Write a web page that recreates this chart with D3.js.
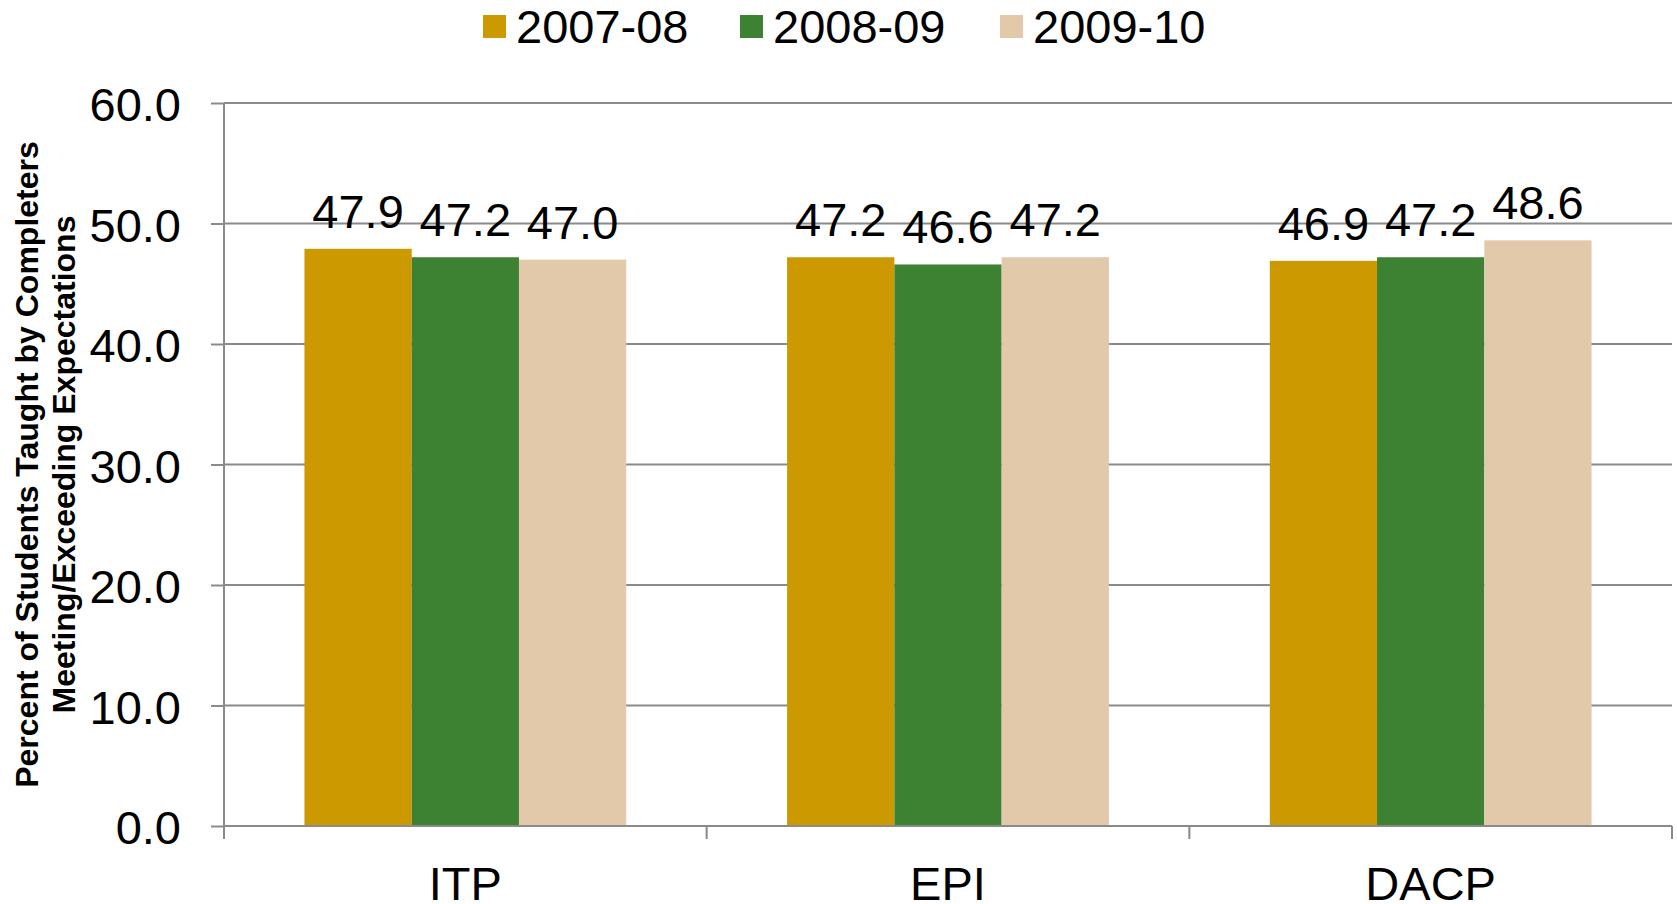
<!DOCTYPE html>
<html>
<head>
<meta charset="utf-8">
<script src="https://cdn.jsdelivr.net/npm/d3@7"></script>
<style>
  html, body { margin: 0; padding: 0; background: #fff; }
  text { font-family: "Liberation Sans", Arial, sans-serif; fill: #000; }
</style>
</head>
<body>
<div id="chart"></div>
<script>
const width = 1677;
const height = 904;
const margin = {top: 103, right: 5, bottom: 78, left: 224};
const fontSize = "47px";

const categories = ["ITP", "EPI", "DACP"];
const seriesNames = ["2007-08", "2008-09", "2009-10"];
const values0708 = [47.9, 47.2, 46.9];
const values0809 = [47.2, 46.6, 47.2];
const values0910 = [47.0, 47.2, 48.6];
const yTicks = [0, 10, 20, 30, 40, 50, 60];
const colors = ["#cc9900", "#3d8232", "#e2c9aa"];

const seriesValues = [values0708, values0809, values0910];
const rows = categories.map((c, i) => ({
    category: c,
    values: seriesNames.map((s, j) => ({ series: s, value: seriesValues[j][i] }))
}));

const svg = d3.select("#chart")
    .append("svg")
        .attr("width", width)
        .attr("height", height)
        .attr("viewBox", [0, 0, width, height]);

const x0 = d3.scaleBand()
    .domain(categories)
    .range([margin.left, width - margin.right])
    .padding(0);

// excel-style gap width of 150%
const x1 = d3.scaleBand()
    .domain(seriesNames)
    .range([0, x0.bandwidth()])
    .paddingInner(0)
    .paddingOuter(0.75);

const y = d3.scaleLinear()
    .domain([0, 60])
    .range([height - margin.bottom, margin.top]);

const color = d3.scaleOrdinal().domain(seriesNames).range(colors);

// gridlines
svg.append("g")
    .selectAll("line")
    .data(yTicks)
    .enter().append("line")
        .attr("x1", margin.left)
        .attr("x2", width - margin.right)
        .attr("y1", d => y(d))
        .attr("y2", d => y(d))
        .attr("stroke", "#8a8a8a")
        .attr("stroke-width", 2);

// y axis
const yAxis = svg.append("g")
    .attr("transform", `translate(${margin.left},0)`)
    .call(d3.axisLeft(y).tickValues(yTicks).tickSize(13).tickPadding(30).tickFormat(d3.format(".1f")));
yAxis.select(".domain")
    .attr("stroke", "#8a8a8a")
    .attr("stroke-width", 2)
    .attr("d", `M0,${y(60)}V${y(0) + 13}`);
yAxis.selectAll(".tick line").attr("stroke", "#8a8a8a").attr("stroke-width", 2);
yAxis.selectAll(".tick text")
    .style("font-size", fontSize)
    .attr("dy", "0.38em");

// bars
const group = svg.append("g").selectAll(".group")
    .data(rows)
    .enter().append("g")
        .attr("class", "group")
        .attr("transform", d => `translate(${x0(d.category)},0)`);

group.selectAll("rect")
    .data(d => d.values)
    .enter().append("rect")
        .attr("x", d => x1(d.series))
        .attr("y", d => y(d.value))
        .attr("width", x1.bandwidth())
        .attr("height", d => y(0) - y(d.value))
        .attr("fill", d => color(d.series));

group.selectAll(".label")
    .data(d => d.values)
    .enter().append("text")
        .attr("class", "label")
        .attr("x", d => x1(d.series) + x1.bandwidth() / 2)
        .attr("y", d => y(d.value) - 21)
        .attr("text-anchor", "middle")
        .style("font-size", fontSize)
        .text(d => d.value.toFixed(1));

// x axis baseline and boundary ticks
svg.append("line")
    .attr("x1", margin.left)
    .attr("x2", width - margin.right)
    .attr("y1", y(0))
    .attr("y2", y(0))
    .attr("stroke", "#8a8a8a")
    .attr("stroke-width", 2);

const boundaries = categories.map(c => x0(c) + x0.bandwidth()).concat([margin.left]);
svg.append("g")
    .selectAll("line")
    .data(boundaries)
    .enter().append("line")
        .attr("x1", d => d)
        .attr("x2", d => d)
        .attr("y1", y(0))
        .attr("y2", y(0) + 13)
        .attr("stroke", "#8a8a8a")
        .attr("stroke-width", 2);

svg.append("g")
    .selectAll("text")
    .data(categories)
    .enter().append("text")
        .attr("x", d => x0(d) + x0.bandwidth() / 2)
        .attr("y", y(0) + 74)
        .attr("text-anchor", "middle")
        .style("font-size", fontSize)
        .text(d => d);

// y axis title
const title = svg.append("text")
    .attr("transform", "rotate(-90)")
    .attr("text-anchor", "middle")
    .style("font-size", "32px")
    .style("font-weight", "bold");
title.append("tspan")
    .attr("x", -(margin.top + (height - margin.bottom)) / 2)
    .attr("y", 38)
    .text("Percent of Students Taught by Completers");
title.append("tspan")
    .attr("x", -(margin.top + (height - margin.bottom)) / 2)
    .attr("y", 75)
    .text("Meeting/Exceeding Expectations");

// legend
const legendX = [483, 740, 1000];
const legend = svg.append("g").selectAll(".legend")
    .data(seriesNames)
    .enter().append("g")
        .attr("class", "legend")
        .attr("transform", (d, i) => `translate(${legendX[i]},15)`);

legend.append("rect")
    .attr("width", 23)
    .attr("height", 23)
    .attr("fill", d => color(d));

legend.append("text")
    .attr("x", 33)
    .attr("y", 28)
    .style("font-size", fontSize)
    .text(d => d);
</script>
</body>
</html>
